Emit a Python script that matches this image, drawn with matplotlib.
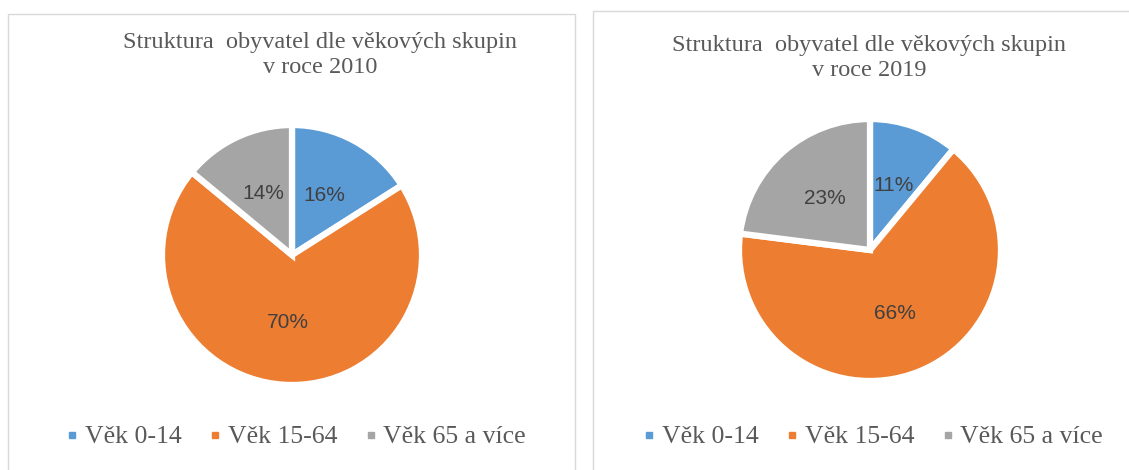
import matplotlib
matplotlib.use("Agg")
import matplotlib.pyplot as plt
from matplotlib.patches import Rectangle
from matplotlib.lines import Line2D
from matplotlib.font_manager import FontProperties

categories = ["Věk 0-14", "Věk 15-64", "Věk 65 a více"]
values_2010 = [16, 70, 14]
values_2019 = [11, 66, 23]
titles = ["Struktura  obyvatel dle věkových skupin\nv roce 2010",
          "Struktura  obyvatel dle věkových skupin\nv roce 2019"]
colors = ["#5B9BD5", "#ED7D31", "#A5A5A5"]

W, H = 1129, 470
fig = plt.figure(figsize=(W / 100, H / 100), dpi=100)
fig.patch.set_facecolor("white")

def fx(px):
    return px / W

def fy(py):
    return 1 - py / H

# chart borders
fig.patches.append(Rectangle((fx(8), fy(480)), fx(575 - 8), fy(14) - fy(480),
                             transform=fig.transFigure, fill=False,
                             edgecolor="#D9D9D9", linewidth=1.0))
fig.patches.append(Rectangle((fx(593), fy(480)), fx(1140 - 593), fy(11) - fy(480),
                             transform=fig.transFigure, fill=False,
                             edgecolor="#D9D9D9", linewidth=1.0))

panels = [
    (values_2010, titles[0], (292, 255), 130, (297, 437), (320, 55)),
    (values_2019, titles[1], (870, 250), 131, (874, 437), (869, 58)),
]

legend_font = FontProperties(family="Liberation Serif", size=18.5)

for vals, title, (cx, cy), r, (lx, ly), (tx, ty) in panels:
    ax = fig.add_axes([fx(cx - r), fy(cy + r), fx(2 * r), fy(cy - r) - fy(cy + r)])
    wedges, texts, autotexts = ax.pie(
        vals, colors=colors, startangle=90, counterclock=False,
        autopct=lambda p: f"{round(p)}%", pctdistance=0.52,
        wedgeprops=dict(edgecolor="white", linewidth=4.5),
        textprops=dict(color="#404040", fontsize=15, family="Liberation Sans"))
    ax.set_xlim(-1, 1)
    ax.set_ylim(-1, 1)
    ax.set_aspect("auto")
    ax.axis("off")

    fig.text(fx(tx), fy(ty), title, ha="center", va="center",
             fontsize=17.5, color="#595959", family="Liberation Serif",
             linespacing=1.2)

    handles = [Line2D([0], [0], marker="s", linestyle="none", markersize=4.5,
                      markerfacecolor=c, markeredgecolor=c) for c in colors]
    fig.legend(handles, categories, loc="center", bbox_to_anchor=(fx(lx), fy(ly)),
               ncol=3, frameon=False, handlelength=0.3, handletextpad=0.35,
               columnspacing=1.15, prop=legend_font,
               labelcolor="#595959")

fig.savefig("out.png", dpi=100, facecolor="white")
